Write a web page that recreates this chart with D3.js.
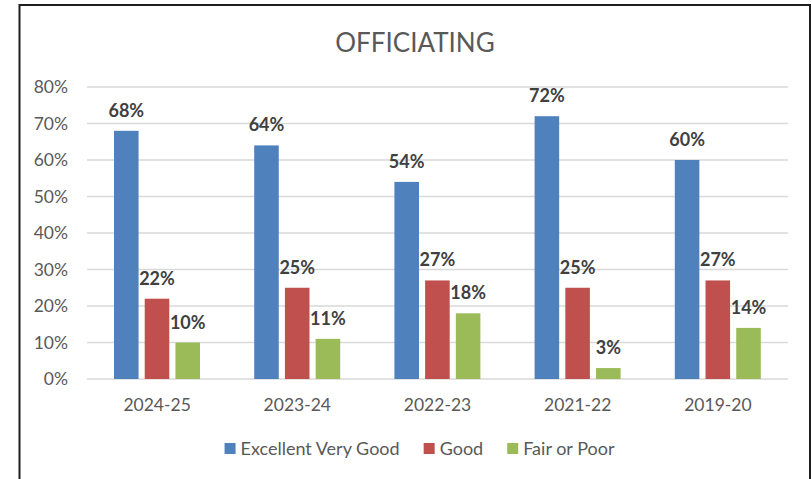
<!DOCTYPE html>
<html>
<head>
<meta charset="utf-8">
<script src="https://cdn.jsdelivr.net/npm/d3@7"></script>
<style>
  body { margin: 0; background: #fff; }
  text { font-family: Lato, "Open Sans", sans-serif; }
</style>
</head>
<body>
<div id="chart"></div>
<script>
var W = 812, H = 479;

var title = "OFFICIATING";
var seasons = ["2024-25", "2023-24", "2022-23", "2021-22", "2019-20"];
var seriesNames = ["Excellent Very Good", "Good", "Fair or Poor"];
var seriesColors = ["#4f81bd", "#c0504d", "#9bbb59"];
var excellent = [0.68, 0.64, 0.54, 0.72, 0.60];
var good = [0.22, 0.25, 0.27, 0.25, 0.27];
var fairPoor = [0.10, 0.11, 0.18, 0.03, 0.14];
var yTicks = [0, 0.1, 0.2, 0.3, 0.4, 0.5, 0.6, 0.7, 0.8];

var seriesValues = [excellent, good, fairPoor];

var svg = d3.select("#chart").append("svg")
  .attr("width", W).attr("height", H);

// outer frame (bottom edge runs off the picture)
svg.append("rect")
  .attr("x", 19.5).attr("y", 5)
  .attr("width", 790.5).attr("height", 490)
  .attr("fill", "#fff")
  .attr("stroke", "#1e1e1e")
  .attr("stroke-width", 2);

var x0 = d3.scaleBand().domain(seasons).range([87, 788]);
var x1 = d3.scaleBand().domain(seriesNames).range([27, 113]).paddingInner(0.2);
var y = d3.scaleLinear().domain([0, 0.8]).range([379, 87]);

// gridlines
svg.append("g")
  .selectAll("line")
  .data(yTicks)
  .join("line")
  .attr("x1", 87).attr("x2", 788)
  .attr("y1", d => y(d)).attr("y2", d => y(d))
  .attr("stroke", "#d9d9d9")
  .attr("stroke-width", 1.3);

// y axis labels
svg.append("g")
  .selectAll("text")
  .data(yTicks)
  .join("text")
  .attr("x", 68)
  .attr("y", d => y(d) + 6)
  .attr("text-anchor", "end")
  .attr("font-size", 17.5)
  .attr("fill", "#595959")
  .text(d => d3.format(".0%")(d));

// x axis labels
svg.append("g")
  .selectAll("text")
  .data(seasons)
  .join("text")
  .attr("x", d => x0(d) + x0.bandwidth() / 2)
  .attr("y", 411)
  .attr("text-anchor", "middle")
  .attr("font-size", 17.5)
  .attr("fill", "#595959")
  .text(d => d);

// bars
var rows = [];
seasons.forEach(function(s, i) {
  seriesNames.forEach(function(n, j) {
    rows.push({season: s, series: n, color: seriesColors[j], value: seriesValues[j][i]});
  });
});

svg.append("g")
  .selectAll("rect")
  .data(rows)
  .join("rect")
  .attr("x", d => x0(d.season) + x1(d.series))
  .attr("y", d => y(d.value))
  .attr("width", x1.bandwidth())
  .attr("height", d => y(0) - y(d.value))
  .attr("fill", d => d.color);

// data labels
svg.append("g")
  .selectAll("text")
  .data(rows)
  .join("text")
  .attr("x", d => x0(d.season) + x1(d.series) + x1.bandwidth() / 2)
  .attr("y", d => y(d.value) - 14)
  .attr("text-anchor", "middle")
  .attr("font-size", 18)
  .attr("font-weight", "bold")
  .attr("fill", "#404040")
  .text(d => d3.format(".0%")(d.value));

// title
svg.append("text")
  .attr("x", 415)
  .attr("y", 52)
  .attr("text-anchor", "middle")
  .attr("font-size", 26)
  .attr("fill", "#595959")
  .text(title);

// legend
var legend = svg.append("g");
var items = legend.selectAll("g")
  .data(seriesNames)
  .join("g");
items.append("rect")
  .attr("width", 11).attr("height", 11)
  .attr("y", 443)
  .attr("fill", (d, i) => seriesColors[i]);
items.append("text")
  .attr("x", 16)
  .attr("y", 455)
  .attr("font-size", 18)
  .attr("fill", "#595959")
  .text(d => d);

var pos = 0, offsets = [];
items.each(function() {
  offsets.push(pos);
  pos += 16 + d3.select(this).select("text").node().getComputedTextLength() + 24;
});
var total = pos - 24;
var start = 419.5 - total / 2;
items.attr("transform", (d, i) => "translate(" + (start + offsets[i]) + ",0)");
</script>
</body>
</html>
